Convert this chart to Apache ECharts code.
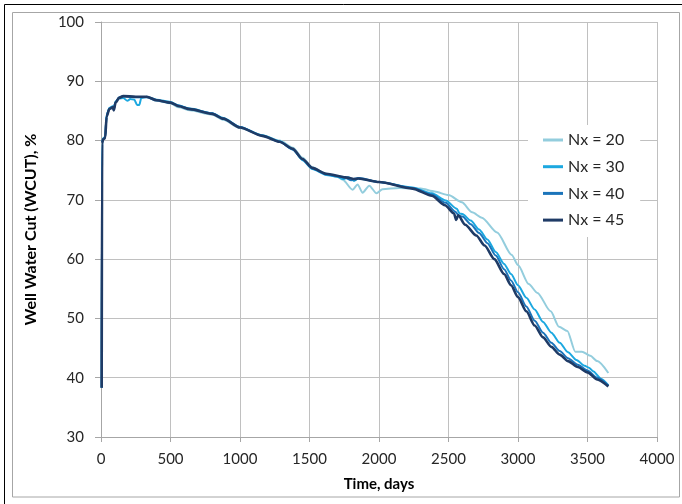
<!DOCTYPE html>
<html>
<head>
<meta charset="utf-8">
<script src="https://cdn.jsdelivr.net/npm/echarts@6/dist/echarts.min.js"></script>
<style>
html,body{margin:0;padding:0;background:#fff;}
#c{width:682px;height:504px;}
</style>
</head>
<body>
<div id="c"></div>
<script>
const seriesNames = ['Nx = 20', 'Nx = 30', 'Nx = 40', 'Nx = 45'];
const xTicks = [0, 500, 1000, 1500, 2000, 2500, 3000, 3500, 4000];
const yTicks = [30, 40, 50, 60, 70, 80, 90, 100];

const t20 = [5, 8, 15, 30, 40, 60, 85, 92, 105, 130, 160, 250, 330, 400, 500, 560, 640, 800, 880, 1000, 1160, 1285, 1380, 1450, 1520, 1620, 1700, 1739, 1810, 1846, 1882, 1930, 1982, 2025, 2145, 2300, 2400, 2500, 2596, 2670, 2740, 2850, 2955, 3000, 3077, 3140, 3235, 3295, 3355, 3412, 3460, 3520, 3570, 3650];
const v20 = [38.3, 79.6, 80.3, 80.5, 84.1, 85.4, 85.7, 85.4, 86.5, 87.2, 87.4, 87.3, 87.3, 86.7, 86.3, 85.6, 85.1, 84.4, 83.5, 82.1, 80.9, 80.0, 78.8, 77.1, 75.5, 74.4, 73.9, 73.4, 71.7, 72.6, 71.2, 72.4, 71.1, 71.8, 72.0, 71.9, 71.4, 70.8, 69.6, 67.9, 67.0, 64.5, 60.7, 59.0, 55.8, 54.3, 51.2, 48.6, 47.9, 44.4, 44.4, 43.7, 42.8, 40.8];

const t30 = [5, 8, 15, 30, 40, 60, 85, 92, 105, 130, 160, 190, 210, 240, 260, 275, 290, 330, 400, 500, 560, 640, 800, 880, 1000, 1160, 1285, 1380, 1450, 1520, 1620, 1700, 1740, 1780, 1820, 1850, 2000, 2240, 2380, 2480, 2560, 2580, 2600, 2660, 2720, 2780, 2840, 2900, 2950, 3000, 3060, 3120, 3180, 3240, 3300, 3360, 3420, 3480, 3510, 3540, 3600, 3650];
const v30 = [38.3, 79.7, 80.4, 80.6, 84.3, 85.5, 85.8, 85.5, 86.6, 87.1, 87.2, 86.7, 87.0, 86.9, 86.0, 86.0, 87.2, 87.4, 86.9, 86.5, 85.9, 85.4, 84.6, 83.8, 82.3, 80.9, 79.9, 78.5, 76.7, 75.2, 74.2, 73.9, 73.5, 73.8, 73.2, 73.6, 73.0, 72.1, 71.1, 69.9, 68.5, 67.7, 67.6, 66.5, 65.0, 63.3, 61.2, 59.2, 57.5, 55.6, 53.5, 51.5, 49.4, 47.6, 45.9, 44.3, 43.0, 42.0, 41.7, 41.1, 39.8, 38.7];

const t40 = [5, 8, 15, 30, 40, 60, 85, 92, 105, 130, 160, 250, 330, 400, 500, 560, 640, 800, 880, 1000, 1160, 1285, 1380, 1450, 1520, 1620, 1700, 1760, 1800, 1830, 1860, 2000, 2240, 2380, 2480, 2550, 2575, 2600, 2660, 2720, 2780, 2840, 2900, 2950, 3000, 3060, 3120, 3180, 3240, 3300, 3360, 3430, 3500, 3570, 3650];
const v40 = [38.3, 79.6, 80.3, 80.5, 84.2, 85.4, 85.7, 85.3, 86.5, 87.3, 87.5, 87.3, 87.3, 86.8, 86.4, 85.9, 85.3, 84.6, 83.7, 82.3, 80.8, 79.8, 78.5, 76.8, 75.3, 74.3, 74.0, 73.7, 73.3, 73.6, 73.7, 73.0, 72.0, 70.9, 69.5, 68.0, 67.3, 67.2, 65.9, 64.4, 62.7, 60.6, 58.3, 56.4, 54.4, 52.0, 49.6, 47.6, 45.9, 44.5, 43.3, 42.2, 41.2, 40.0, 38.7];

const t45 = [5, 8, 15, 30, 40, 60, 85, 92, 105, 130, 160, 250, 330, 400, 500, 560, 640, 800, 880, 1000, 1160, 1285, 1380, 1450, 1520, 1620, 1760, 1830, 1850, 2000, 2240, 2380, 2475, 2540, 2555, 2570, 2620, 2700, 2760, 2830, 2900, 2950, 3000, 3060, 3120, 3180, 3240, 3300, 3360, 3430, 3500, 3570, 3650];
const v45 = [38.3, 79.5, 80.2, 80.4, 84.0, 85.3, 85.6, 85.1, 86.4, 87.2, 87.5, 87.4, 87.4, 86.8, 86.4, 85.8, 85.3, 84.5, 83.7, 82.2, 80.8, 79.8, 78.6, 76.9, 75.4, 74.4, 73.8, 73.5, 73.6, 73.0, 71.9, 70.7, 69.1, 67.7, 66.6, 67.4, 65.8, 64.0, 62.3, 60.0, 57.5, 55.6, 53.6, 51.2, 48.8, 46.8, 45.2, 43.9, 42.8, 41.8, 40.9, 39.7, 38.5];

const colors = ['#93cddd', '#1ca8e0', '#1b74ba', '#1f3b66'];
const widths = [2, 2, 2, 2.6];

function zip(t, v) { return t.map((x, i) => [x, v[i]]); }
const datasets = [zip(t20, v20), zip(t30, v30), zip(t40, v40), zip(t45, v45)];

const FONT = 'Lato, "Open Sans", sans-serif';
const chart = echarts.init(document.getElementById('c'), null, {renderer: 'canvas'});
chart.setOption({
  animation: false,
  backgroundColor: '#fff',
  graphic: [
    {type: 'rect', shape: {x: 4.5, y: 4.5, width: 800, height: 800}, style: {fill: 'none', stroke: '#000', lineWidth: 1}, silent: true, z: 100},
    {type: 'rect', shape: {x: 12.5, y: 12.5, width: 667, height: 484.5}, style: {fill: 'none', stroke: '#a6a6a6', lineWidth: 1}, silent: true, z: 100}
  ],
  grid: {left: 101, right: 25, top: 22, bottom: 67, containLabel: false},
  legend: {
    orient: 'vertical',
    left: 528, top: 125,
    padding: [7, 16, 9, 15],
    itemGap: 10.7,
    itemWidth: 20, itemHeight: 3,
    icon: 'rect',
    backgroundColor: '#fff',
    textStyle: {fontFamily: FONT, fontSize: 16, color: '#262626'},
    data: seriesNames
  },
  xAxis: {
    type: 'value', min: xTicks[0], max: xTicks[xTicks.length - 1], interval: 500,
    name: 'Time, days', nameLocation: 'middle', nameGap: 40,
    nameTextStyle: {fontFamily: FONT, fontSize: 15, fontWeight: 'bold', color: '#000'},
    axisLine: {lineStyle: {color: '#a6a6a6'}},
    axisTick: {show: true, length: 5, lineStyle: {color: '#a6a6a6'}},
    axisLabel: {fontFamily: FONT, fontSize: 15, color: '#262626', margin: 15, formatter: v => String(v)},
    splitLine: {show: true, lineStyle: {color: '#c0c0c0', width: 1}}
  },
  yAxis: {
    type: 'value', min: yTicks[0], max: yTicks[yTicks.length - 1], interval: 10,
    name: 'Well Water Cut (WCUT), %', nameLocation: 'middle', nameGap: 62,
    nameTextStyle: {fontFamily: FONT, fontSize: 16, fontWeight: 'bold', color: '#000'},
    axisLine: {show: true, lineStyle: {color: '#a6a6a6'}},
    axisTick: {show: true, length: 6, lineStyle: {color: '#a6a6a6'}},
    axisLabel: {fontFamily: FONT, fontSize: 15, color: '#262626', margin: 17, formatter: v => String(v)},
    splitLine: {show: true, lineStyle: {color: '#c0c0c0', width: 1}}
  },
  series: seriesNames.map((n, i) => ({
    name: n, type: 'line', data: datasets[i],
    showSymbol: false, symbol: 'none',
    smooth: 0.25, smoothMonotone: 'x',
    lineStyle: {color: colors[i], width: widths[i]},
    itemStyle: {color: colors[i]},
    z: 2 + i
  }))
});
</script>
</body>
</html>
